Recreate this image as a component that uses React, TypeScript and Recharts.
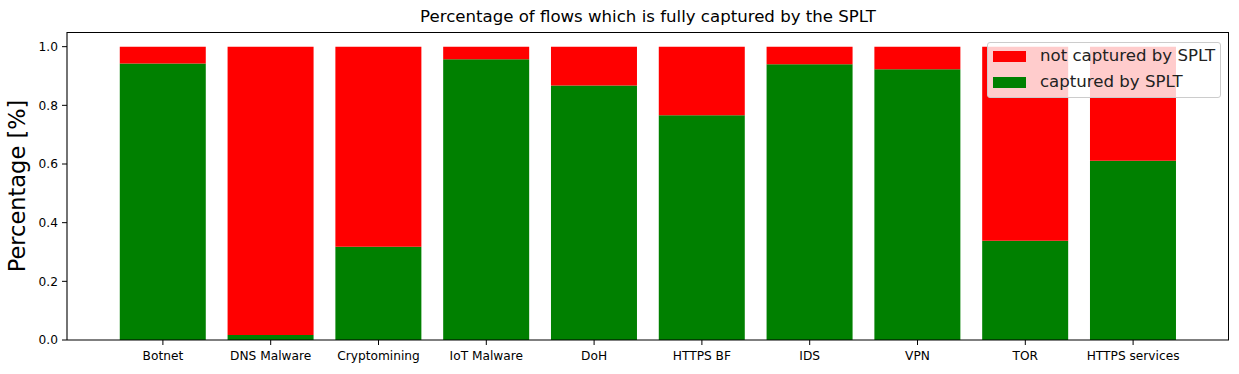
import React from 'react';
import { BarChart, Bar, XAxis, YAxis } from 'recharts';

const categories = ['Botnet', 'DNS Malware', 'Cryptomining', 'IoT Malware', 'DoH', 'HTTPS BF', 'IDS', 'VPN', 'TOR', 'HTTPS services'];
const captured = [0.943, 0.017, 0.318, 0.957, 0.868, 0.766, 0.94, 0.923, 0.338, 0.611];
const notCaptured = [0.057, 0.983, 0.682, 0.043, 0.132, 0.234, 0.06, 0.077, 0.662, 0.389];
const yTicks = [0, 0.2, 0.4, 0.6, 0.8, 1.0];

const legendItems = [
    { name: 'not captured by SPLT', color: '#ff0000' },
    { name: 'captured by SPLT', color: '#008000' },
];

const data = categories.map((name, i) => ({
    name,
    captured: captured[i],
    notCaptured: notCaptured[i],
}));

const FONT = '"DejaVu Sans", sans-serif';

function LegendBox() {
    return (
        <div
            style={{
                position: 'absolute',
                left: 987,
                top: 42,
                width: 232,
                height: 54,
                background: 'rgba(255,255,255,0.8)',
                border: '1px solid #cccccc',
                borderRadius: 3,
                fontFamily: FONT,
            }}
        >
            {legendItems.map((item, i) => (
                <div key={item.name} style={{ position: 'absolute', left: 5, top: 7 + i * 26, display: 'flex', alignItems: 'center', height: 12 }}>
                    <div style={{ width: 33, height: 11, background: item.color }} />
                    <span style={{ marginLeft: 14, fontSize: 16.6, color: '#222', whiteSpace: 'nowrap', lineHeight: '12px' }}>{item.name}</span>
                </div>
            ))}
        </div>
    );
}

export default function App() {
    return (
        <div style={{ position: 'absolute', left: 0, top: 0, width: 1239, height: 374, background: '#fff', fontFamily: FONT }}>
            <div style={{ position: 'absolute', left: 67, width: 1162, top: 7, textAlign: 'center', fontSize: 16.6, color: '#000', lineHeight: '20px' }}>
                Percentage of flows which is fully captured by the SPLT
            </div>
            <BarChart width={1239} height={374} data={data} margin={{ top: 32, right: 10, bottom: 0, left: 0 }} barCategoryGap="10%">
                <XAxis
                    dataKey="name"
                    height={34}
                    padding={{ left: 42, right: 42 }}
                    axisLine={{ stroke: '#000', strokeWidth: 1.1 }}
                    tickLine={{ stroke: '#000' }}
                    tickSize={5}
                    tickMargin={6}
                    interval={0}
                    tick={{ fill: '#000', fontSize: 12.2, fontFamily: FONT }}
                />
                <YAxis
                    width={67}
                    domain={[0, 1.05]}
                    ticks={yTicks}
                    allowDataOverflow
                    tickFormatter={(v: number) => v.toFixed(1)}
                    axisLine={{ stroke: '#000', strokeWidth: 1.1 }}
                    tickLine={{ stroke: '#000' }}
                    tickSize={5}
                    tickMargin={4}
                    tick={{ fill: '#000', fontSize: 12.2, fontFamily: FONT }}
                    label={{
                        content: (props: any) => {
                            const vb = props.viewBox;
                            const cx = vb.x + 17;
                            const cy = vb.y + vb.height / 2;
                            return (
                                <text x={cx} y={cy} transform={`rotate(-90 ${cx} ${cy})`} textAnchor="middle" dominantBaseline="central" fontSize={22.5} fontFamily={FONT} fill="#000">
                                    Percentage [%]
                                </text>
                            );
                        },
                    }}
                />
                <Bar dataKey="captured" stackId="a" fill="#008000" isAnimationActive={false} />
                <Bar dataKey="notCaptured" stackId="a" fill="#ff0000" isAnimationActive={false} />
            </BarChart>
            {/* plot frame (top/right spines) */}
            <div style={{ position: 'absolute', left: 67, top: 32, width: 1162, height: 308, borderTop: '1px solid #000', borderRight: '1px solid #000', boxSizing: 'border-box', pointerEvents: 'none' }} />
            <LegendBox />
        </div>
    );
}
